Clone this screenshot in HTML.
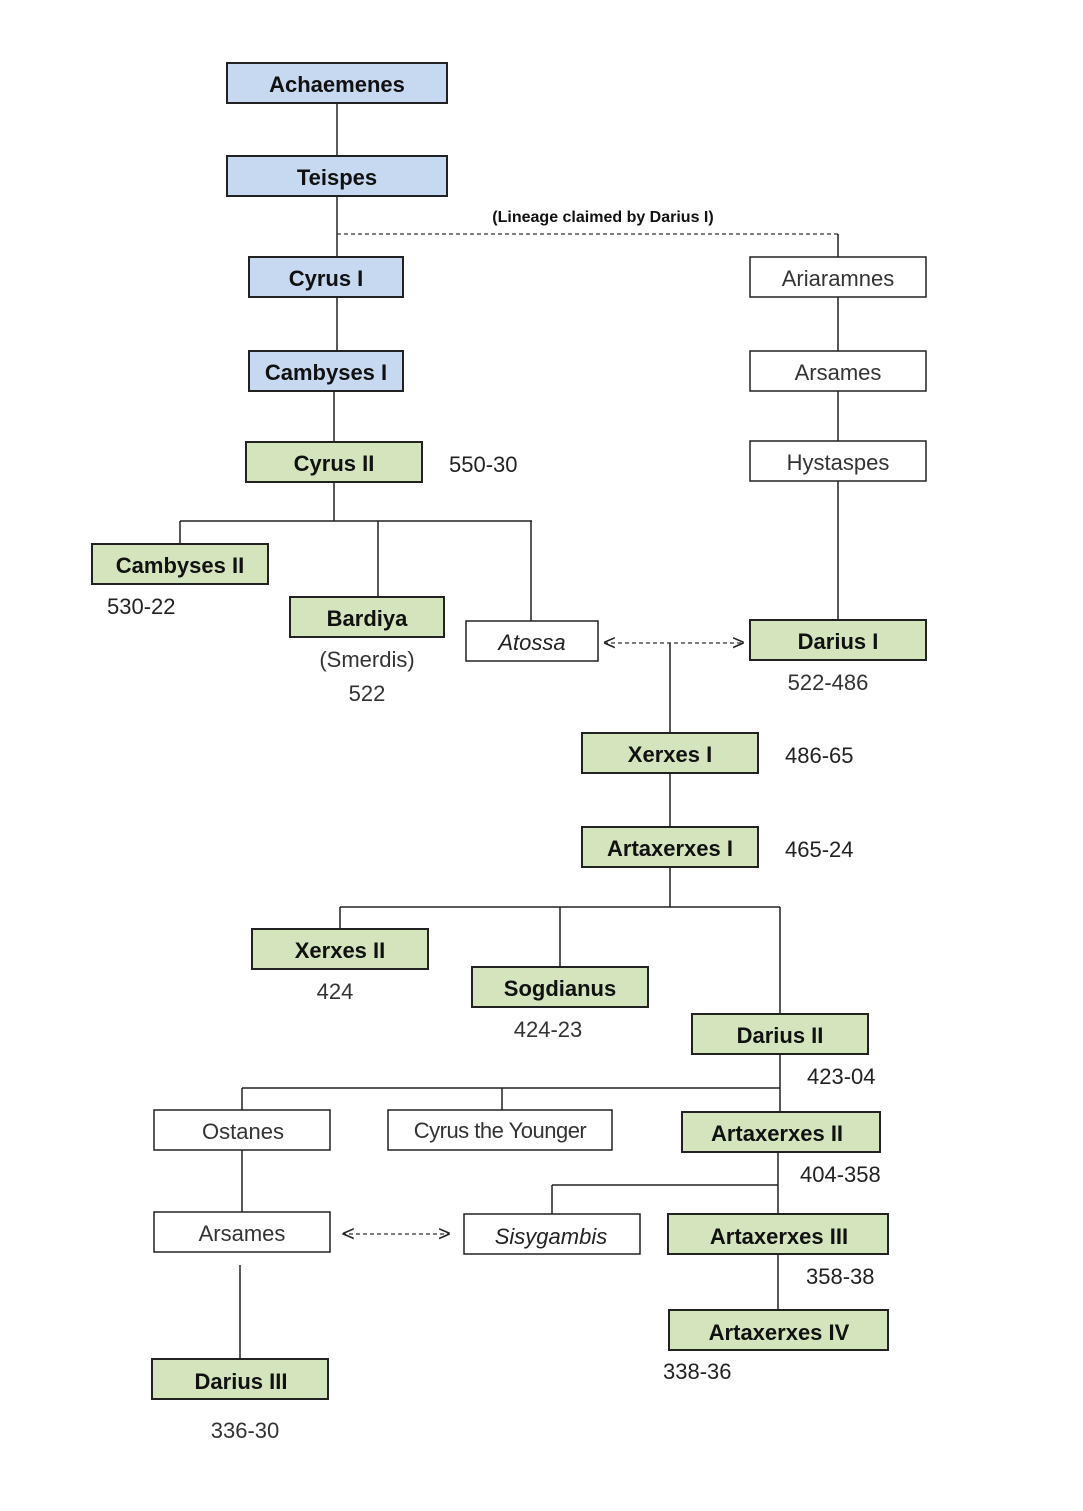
<!DOCTYPE html>
<html><head><meta charset="utf-8"><style>
body{margin:0;background:#fff;}
svg{display:block}
text{font-family:"Liberation Sans",sans-serif;}
.b{fill:#c6d9f0;stroke:#222;stroke-width:2}
.g{fill:#d4e5bd;stroke:#222;stroke-width:2}
.w{fill:#fff;stroke:#222;stroke-width:1.5}
.bt{font-size:22px;font-weight:bold;fill:#111;text-anchor:middle}
.wt{font-size:22px;fill:#333;text-anchor:middle}
.it{font-size:22px;font-style:italic;fill:#222;text-anchor:middle}
.d{font-size:22px;fill:#222}
.l{stroke:#222;stroke-width:1.5;fill:none}
.dl{stroke:#333;stroke-width:1.2;stroke-dasharray:4,3;fill:none}
</style></head><body>
<svg width="1083" height="1511" viewBox="0 0 1083 1511">
<!-- lines -->
<path class="l" d="M337 103V156M337 196V257M337 297V351M334 391V442M334 482V521M180 521H532M180 521V544M378 521V597M531 521V621"/>
<path class="dl" d="M337 234H838"/>
<path class="l" d="M838 234V257M838 297V351M838 391V441M838 481V620"/>
<path class="l" d="M670 643V733M670 773V827M670 867V907M340 907H780M340 907V929M560 907V967M780 907V1014"/>
<path class="l" d="M780 1054V1112M242 1088H780M242 1088V1110M502 1088V1110M242 1150V1212M240 1265V1359M778 1152V1214M552 1185H778M552 1185V1214M778 1254V1310"/>
<path class="dl" d="M604 643H742M342 1234H448"/>
<text x="603" y="650" class="d" font-size="18" text-anchor="start">&lt;</text>
<text x="732" y="650" class="d" font-size="18">&gt;</text>
<text x="342" y="1241" class="d" font-size="18">&lt;</text>
<text x="438" y="1241" class="d" font-size="18">&gt;</text>
<text x="603" y="222" font-size="16" font-weight="bold" text-anchor="middle" fill="#111">(Lineage claimed by Darius I)</text>
<!-- boxes -->
<rect class="b" x="227" y="63" width="220" height="40"/><text class="bt" x="337" y="92">Achaemenes</text>
<rect class="b" x="227" y="156" width="220" height="40"/><text class="bt" x="337" y="185">Teispes</text>
<rect class="b" x="249" y="257" width="154" height="40"/><text class="bt" x="326" y="286">Cyrus I</text>
<rect class="b" x="249" y="351" width="154" height="40"/><text class="bt" x="326" y="380">Cambyses I</text>
<rect class="g" x="246" y="442" width="176" height="40"/><text class="bt" x="334" y="471">Cyrus II</text>
<text class="d" x="449" y="472">550-30</text>
<rect class="w" x="750" y="257" width="176" height="40"/><text class="wt" x="838" y="286">Ariaramnes</text>
<rect class="w" x="750" y="351" width="176" height="40"/><text class="wt" x="838" y="380">Arsames</text>
<rect class="w" x="750" y="441" width="176" height="40"/><text class="wt" x="838" y="470">Hystaspes</text>
<rect class="g" x="92" y="544" width="176" height="40"/><text class="bt" x="180" y="573">Cambyses II</text>
<text class="d" x="107" y="614">530-22</text>
<rect class="g" x="290" y="597" width="154" height="40"/><text class="bt" x="367" y="626">Bardiya</text>
<text class="wt" x="367" y="667">(Smerdis)</text>
<text class="wt" x="367" y="701">522</text>
<rect class="w" x="466" y="621" width="132" height="40"/><text class="it" x="532" y="650">Atossa</text>
<rect class="g" x="750" y="620" width="176" height="40"/><text class="bt" x="838" y="649">Darius I</text>
<text class="wt" x="828" y="690">522-486</text>
<rect class="g" x="582" y="733" width="176" height="40"/><text class="bt" x="670" y="762">Xerxes I</text>
<text class="d" x="785" y="763">486-65</text>
<rect class="g" x="582" y="827" width="176" height="40"/><text class="bt" x="670" y="856">Artaxerxes I</text>
<text class="d" x="785" y="857">465-24</text>
<rect class="g" x="252" y="929" width="176" height="40"/><text class="bt" x="340" y="958">Xerxes II</text>
<text class="wt" x="335" y="999">424</text>
<rect class="g" x="472" y="967" width="176" height="40"/><text class="bt" x="560" y="996">Sogdianus</text>
<text class="wt" x="548" y="1037">424-23</text>
<rect class="g" x="692" y="1014" width="176" height="40"/><text class="bt" x="780" y="1043">Darius II</text>
<text class="d" x="807" y="1084">423-04</text>
<rect class="w" x="154" y="1110" width="176" height="40"/><text class="wt" x="243" y="1139">Ostanes</text>
<rect class="w" x="388" y="1110" width="224" height="40"/><text class="wt" x="500" y="1138" letter-spacing="-0.5">Cyrus the Younger</text>
<rect class="g" x="682" y="1112" width="198" height="40"/><text class="bt" x="777" y="1141">Artaxerxes II</text>
<text class="d" x="800" y="1182">404-358</text>
<rect class="w" x="154" y="1212" width="176" height="40"/><text class="wt" x="242" y="1241">Arsames</text>
<rect class="w" x="464" y="1214" width="176" height="40"/><text class="it" x="551" y="1244">Sisygambis</text>
<rect class="g" x="668" y="1214" width="220" height="40"/><text class="bt" x="779" y="1244">Artaxerxes III</text>
<text class="d" x="806" y="1284">358-38</text>
<rect class="g" x="669" y="1310" width="219" height="40"/><text class="bt" x="779" y="1340">Artaxerxes IV</text>
<text class="d" x="663" y="1379">338-36</text>
<rect class="g" x="152" y="1359" width="176" height="40"/><text class="bt" x="241" y="1389">Darius III</text>
<text class="wt" x="245" y="1438">336-30</text>
</svg>
</body></html>
